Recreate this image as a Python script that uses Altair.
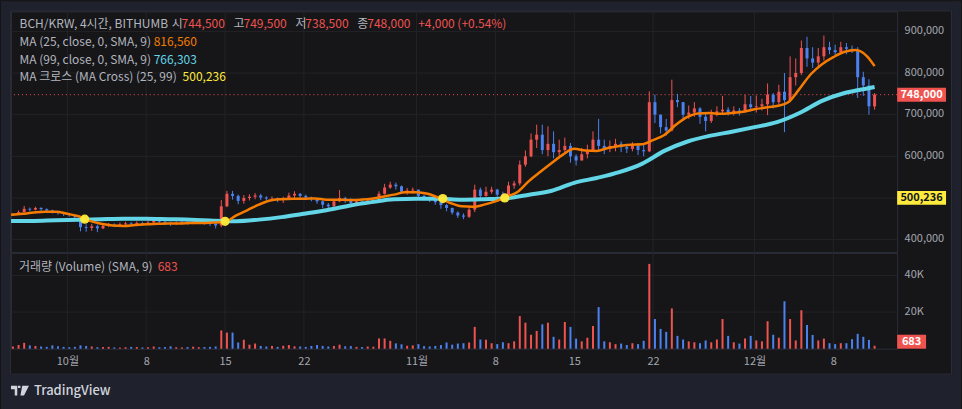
import altair as alt
import pandas as pd

FONT = "Noto Sans CJK KR"
BG = "#161619"
NAVY = "#1f222d"
BORDER = "#2b2e39"
GRID = "#232327"
TXT = "#b2b5be"
AX = "#a3a6af"
RED = "#ef5350"
BLUE = "#4b82f0"
ORANGE = "#f57c00"
CYAN = "#62d5e6"
YELLOW = "#ffeb3b"

# ---------------- data (12-hour candles, thousand KRW) ----------------
candle_start = "2024-09-26 00:00"
first_open = 458
closes = [461, 466, 474, 472, 476, 473, 470, 468, 464, 462, 459, 455, 430, 428, 432, 427, 433, 436,
          434, 437, 439, 437, 440, 438, 441, 445, 443, 440, 438, 440, 442, 440, 441, 443, 440, 438,
          434, 480, 510, 505, 493, 500, 503, 506, 501, 499, 500, 496, 497, 506, 510, 505, 501, 497,
          492, 484, 480, 492, 500, 495, 488, 492, 490, 494, 495, 510, 525, 532, 528, 515, 518, 520,
          505, 500, 497, 490, 483, 476, 465, 458, 455, 472, 520, 505, 515, 520, 508, 505, 530, 535,
          580, 600, 640, 652, 615, 630, 610, 615, 625, 600, 590, 605, 615, 640, 625, 618, 625, 630,
          622, 618, 626, 615, 612, 730, 700, 670, 662, 735, 730, 700, 705, 715, 695, 685, 700, 708,
          712, 705, 710, 706, 725, 718, 720, 725, 748, 730, 755, 735, 790, 800, 860, 835, 825, 840,
          862, 855, 850, 862, 858, 855, 790, 770, 720, 748]
highs = [464, 470, 481, 477, 479, 478, 475, 472, 469, 466, 464, 460, 456, 437, 438, 436, 438, 440,
         439, 441, 443, 442, 444, 443, 446, 449, 448, 446, 443, 444, 446, 445, 445, 448, 445, 443,
         441, 495, 517, 517, 508, 507, 509, 512, 510, 504, 504, 501, 503, 513, 516, 512, 508, 503,
         499, 494, 488, 498, 519, 503, 499, 497, 496, 498, 500, 516, 534, 539, 537, 530, 524, 525,
         520, 508, 503, 498, 495, 486, 477, 468, 463, 478, 532, 525, 527, 527, 522, 515, 539, 541,
         590, 614, 655, 676, 676, 672, 660, 640, 645, 632, 605, 620, 628, 660, 690, 640, 638, 642,
         636, 630, 634, 632, 630, 756, 748, 700, 690, 784, 750, 730, 722, 730, 718, 705, 712, 720,
         745, 718, 720, 716, 748, 745, 746, 738, 775, 752, 772, 800, 840, 835, 878, 887, 862, 860,
         890, 875, 868, 875, 872, 866, 862, 803, 785, 752]
lows = [457, 459, 465, 468, 470, 469, 466, 463, 460, 457, 455, 450, 420, 419, 421, 418, 425, 430,
        430, 432, 434, 433, 435, 434, 436, 438, 438, 435, 433, 435, 437, 436, 437, 438, 436, 433,
        427, 430, 478, 496, 485, 486, 494, 497, 495, 494, 495, 490, 488, 496, 500, 499, 496, 492,
        486, 476, 472, 478, 490, 488, 480, 486, 486, 488, 489, 492, 508, 522, 520, 510, 508, 510,
        496, 494, 490, 484, 474, 468, 460, 452, 449, 452, 466, 498, 503, 510, 503, 496, 503, 522,
        530, 575, 598, 620, 605, 600, 595, 595, 605, 585, 578, 590, 595, 612, 615, 605, 610, 612,
        610, 608, 612, 603, 600, 610, 680, 655, 650, 660, 718, 685, 690, 695, 678, 660, 680, 696,
        700, 698, 698, 698, 705, 708, 705, 710, 699, 715, 725, 658, 730, 770, 795, 815, 812, 815,
        830, 845, 843, 848, 845, 848, 740, 745, 700, 712]
volumes_k = [1.2, 2.0, 3.2, 1.8, 1.5, 1.2, 1.0, 1.8, 1.3, 1.0, 0.8, 1.0, 1.8, 1.5, 1.2, 0.8, 0.9, 1.0,
             0.7, 0.6, 0.8, 1.0, 0.9, 0.7, 0.8, 1.2, 0.8, 0.9, 1.3, 0.8, 0.7, 0.9, 1.1, 0.8, 0.9, 1.0,
             1.2, 10.0, 8.8, 8.8, 3.4, 4.9, 2.2, 2.8, 1.5, 1.2, 1.5, 1.0, 1.6, 2.0, 1.3, 1.2, 1.0, 1.5,
             2.0, 1.5, 1.2, 1.5, 2.2, 1.3, 1.4, 1.0, 0.9, 1.2, 1.1, 5.6, 5.6, 4.3, 2.9, 2.4, 1.6, 1.8,
             2.5, 1.4, 1.2, 1.5, 2.0, 3.4, 2.2, 2.8, 3.0, 3.4, 11.9, 5.0, 4.9, 3.0, 2.5, 3.5, 3.0, 4.0,
             17.8, 14.2, 7.6, 9.7, 13.3, 14.2, 6.5, 5.0, 14.6, 11.9, 5.5, 4.0, 6.0, 12.4, 22.7, 4.0, 3.5, 2.5,
             2.8, 2.0, 3.0, 2.5, 4.3, 46.3, 16.2, 10.8, 9.2, 22.0, 7.0, 5.0, 4.0, 3.5, 3.0, 4.5, 3.5, 5.0,
             16.2, 7.0, 3.5, 2.8, 5.6, 7.0, 4.5, 4.0, 15.0, 7.6, 6.0, 25.9, 16.2, 4.5, 21.0, 13.0, 7.5, 4.5,
             5.5, 3.0, 2.5, 3.0, 3.0, 5.2, 8.1, 6.5, 4.8, 1.6]

# moving averages (thousand KRW)
ma25_start = "2024-09-26"   # daily points
ma25_vals = [460, 462, 465, 467, 467, 462, 456, 445, 438, 434, 433, 435, 437, 438, 439, 439, 440, 440,
             441, 443, 458, 471, 484, 494, 497, 498, 498, 499, 496, 496, 495, 496, 498, 503, 508, 514,
             514, 510, 500, 488, 480, 479, 484, 492, 503, 515, 541, 563, 584, 604, 618, 614, 613, 620,
             625, 628, 629, 639, 651, 675, 694, 703, 704, 702, 704, 707, 713, 717, 721, 730, 762, 797,
             821, 838, 851, 855, 840]
ma99_start = "2024-09-26"   # every second day
ma99_vals = [444.5, 445, 446.6, 447.8, 449, 450, 450, 449, 448, 445.5, 444.2, 448, 454, 462, 470.6,
             481.4, 490, 497, 498, 498, 495.7, 497, 499.3, 507.7, 517.3, 536.4, 548, 562, 582, 613,
             635, 649, 659, 670, 682, 704, 733, 752, 763]
last_time = "2024-12-11 16:00"
ma25_last = 816.56
ma99_last = 766.303
cross_times = ["2024-10-02 13:00", "2024-10-15 00:00", "2024-11-03 08:00", "2024-11-08 20:00"]
cross_vals = [449.0, 444.0, 498.5, 500.236]
last_price = 748000
cross_last = 500236

price_labels = [400000, 600000, 700000, 800000, 900000]
price_grid = [400000, 500000, 600000, 700000, 800000, 900000]
vol_ticks = [20000, 40000]
date_ticks = ["2024-10-01", "2024-10-08", "2024-10-15", "2024-10-22", "2024-11-01",
              "2024-11-08", "2024-11-15", "2024-11-22", "2024-12-01", "2024-12-08"]


def ms(ts):
    ts = pd.Timestamp(ts)
    if ts.tzinfo is None:
        ts = ts.tz_localize("UTC")
    return int(ts.value // 1_000_000)


# ---------------- tables ----------------
t0 = pd.Timestamp(candle_start)
opens = [first_open] + closes[:-1]
n = len(closes)
cdf = pd.DataFrame({
    "t": [ms(t0 + pd.Timedelta(hours=12 * i + 4)) for i in range(n)],
    "open": [o * 1000 for o in opens],
    "close": [c * 1000 for c in closes],
    "hi": [max(h, o, c) * 1000 for h, o, c in zip(highs, opens, closes)],
    "lo": [min(l, o, c) * 1000 for l, o, c in zip(lows, opens, closes)],
    "vol": [v * 1000 for v in volumes_k],
    "dir": ["up" if c >= o else "down" for o, c in zip(opens, closes)],
})
ma25_df = pd.DataFrame({
    "t": [ms(pd.Timestamp(ma25_start) + pd.Timedelta(days=i)) for i in range(len(ma25_vals))] + [ms(last_time)],
    "v": [v * 1000 for v in ma25_vals] + [ma25_last * 1000],
})
ma99_df = pd.DataFrame({
    "t": [ms(pd.Timestamp(ma99_start) + pd.Timedelta(days=2 * i)) for i in range(len(ma99_vals))] + [ms(last_time)],
    "v": [v * 1000 for v in ma99_vals] + [ma99_last * 1000],
})
cross_df = pd.DataFrame({"t": [ms(t) for t in cross_times], "v": [v * 1000 for v in cross_vals]})
hgrid_df = pd.DataFrame({"v": price_grid})
vgrid_df = pd.DataFrame({"t": [ms(d) for d in date_ticks]})
vhgrid_df = pd.DataFrame({"v": vol_ticks})
last_df = pd.DataFrame({"v": [last_price]})
tags_df = pd.DataFrame({"v": [last_price, cross_last], "label": ["748,000", "500,236"],
                        "fill": [RED, YELLOW], "ink": ["#ffffff", "#131722"]})
one = pd.DataFrame({"a": [0]})

# ---------------- scales / axes ----------------
origin = pd.Timestamp("2024-10-01")
x_dom = [ms(origin - pd.Timedelta(days=5.0058)), ms(origin + pd.Timedelta(days=73.669))]
XS = alt.Scale(type="utc", domain=x_dom, padding=0)
YP = alt.Scale(domain=[370536, 947916], nice=False, zero=False, padding=0)
YV = alt.Scale(domain=[0, 52300], nice=False, padding=0)

y_axis_p = alt.Axis(orient="right", values=price_labels, format=",d", title=None, grid=False,
                    domain=False, ticks=False, labelColor=AX, labelFont=FONT, labelFontSize=11,
                    labelPadding=7, labelAlign="left", labelBaseline="middle", labelOffset=-1, zindex=1)
y_axis_v = alt.Axis(orient="right", values=vol_ticks, labelExpr="datum.value / 1000 + 'K'",
                    title=None, grid=False, domain=False, ticks=False, labelColor=AX,
                    labelFont=FONT, labelFontSize=11, labelPadding=7, labelAlign="left",
                    labelBaseline="middle", labelOffset=-1, zindex=1)
x_axis_v = alt.Axis(values=[ms(d) for d in date_ticks],
                    labelExpr="utcdate(datum.value) == 1 ? (utcmonth(datum.value) + 1) + '월' : '' + utcdate(datum.value)",
                    title=None, grid=False, domain=False, ticks=False, labelColor=AX, labelFont=FONT,
                    labelFontSize=11, labelPadding=13, labelBaseline="middle", labelFlush=False,
                    labelOverlap=False, zindex=1)


def XP(f="t:T"):
    return alt.X(f, scale=XS, axis=None)


def XV(f="t:T"):
    return alt.X(f, scale=XS, axis=x_axis_v)


def YPf(f):
    return alt.Y(f, scale=YP, axis=y_axis_p)


def YVf(f):
    return alt.Y(f, scale=YV, axis=y_axis_v)


dir_color = alt.Color("dir:N", scale=alt.Scale(domain=["up", "down"], range=[RED, BLUE]), legend=None)


def box(x, x2, y, y2, color):
    return alt.Chart(one).mark_rect(color=color).encode(
        x=alt.value(x), x2=alt.value(x2), y=alt.value(y), y2=alt.value(y2))


def txt(s, x, y, color, size=12, weight="normal", align="left"):
    return alt.Chart(one).mark_text(text=s, align=align, baseline="middle", color=color,
                                    fontSize=size, font=FONT, fontWeight=weight).encode(
        x=alt.value(x), y=alt.value(y))


# ---------------- price pane ----------------
margins = [
    box(-10, -1, -10, 399, NAVY),
    box(943, 952, -10, 399, NAVY),
    box(-10, 952, -10, -1, NAVY),
    box(-10, 952, 364, 399, NAVY),
]
frame = alt.Chart(one).mark_rect(fill=BG, fillOpacity=0, stroke=BORDER, strokeWidth=1).encode(
    x=alt.value(-0.5), x2=alt.value(942.5), y=alt.value(-0.5), y2=alt.value(363.5))

hgrid = alt.Chart(hgrid_df).mark_rule(color=GRID, strokeWidth=1).encode(y=YPf("v:Q"))
vgrid = alt.Chart(vgrid_df).mark_rule(color=GRID, strokeWidth=1).encode(x=XP())
last_line = alt.Chart(last_df).mark_rule(color=RED, strokeWidth=1, strokeDash=[1, 3]).encode(y=YPf("v:Q"))

wicks = alt.Chart(cdf).mark_rule(strokeWidth=1).encode(x=XP(), y=YPf("lo:Q"), y2="hi:Q", color=dir_color)
bodies = alt.Chart(cdf).mark_bar(size=3).encode(x=XP(), y=YPf("open:Q"), y2="close:Q", color=dir_color)
ma99_line = alt.Chart(ma99_df).mark_line(color=CYAN, strokeWidth=4, interpolate="monotone").encode(
    x=XP(), y=YPf("v:Q"))
ma25_line = alt.Chart(ma25_df).mark_line(color=ORANGE, strokeWidth=2.5, interpolate="monotone").encode(
    x=XP(), y=YPf("v:Q"))
crosses = alt.Chart(cross_df).mark_circle(size=85, color=YELLOW, opacity=0.95).encode(x=XP(), y=YPf("v:Q"))

TAG = "M-1,-0.2857L1,-0.2857L1,0.2857L-1,0.2857Z"
tag_boxes = alt.Chart(tags_df).mark_point(shape=TAG, size=2401, filled=True, opacity=1, strokeWidth=0).encode(
    x=alt.value(912.5), y=YPf("v:Q"), color=alt.Color("fill:N", scale=None))
tag_text = alt.Chart(tags_df).mark_text(font=FONT, fontSize=11, fontWeight="bold", align="center",
                                        baseline="middle").encode(
    x=alt.value(912.5), y=YPf("v:Q"), text="label:N", color=alt.Color("ink:N", scale=None))

L1, L2, L3, L4 = 13, 31, 49, 65.5
legend = [
    txt("BCH/KRW, 4시간, BITHUMB", 8.6, L1, TXT),
    txt("시", 161, L1, TXT), txt("744,500", 171, L1, RED),
    txt("고", 223, L1, TXT), txt("749,500", 233, L1, RED),
    txt("저", 285, L1, TXT), txt("738,500", 295, L1, RED),
    txt("종", 347, L1, TXT), txt("748,000", 357, L1, RED),
    txt("+4,000 (+0.54%)", 408, L1, RED),
    txt("MA (25, close, 0, SMA, 9)", 8.6, L2, TXT), txt("816,560", 143, L2, ORANGE),
    txt("MA (99, close, 0, SMA, 9)", 8.6, L3, TXT), txt("766,303", 143, L3, CYAN),
    txt("MA 크로스 (MA Cross) (25, 99)", 8.6, L4, TXT), txt("500,236", 172, L4, YELLOW),
]

LOGO = ("M-1,-0.55L-0.3,-0.55L-0.3,0.55L-0.58,0.55L-0.58,-0.15L-1,-0.15Z "
        "M-0.22,-0.55L0.05,-0.55L0.05,-0.28L-0.22,-0.28Z "
        "M0.25,-0.55L1,-0.55L0.45,0.55L0.05,0.55Z")
logo = alt.Chart(one).mark_point(shape=LOGO, size=324, filled=True, opacity=1, strokeWidth=0,
                                 color="#d1d4dc").encode(x=alt.value(9), y=alt.value(380))
logo_text = txt("TradingView", 23, 380, "#d1d4dc", size=13, weight=500)

price = alt.layer(*margins, frame, hgrid, vgrid, last_line, wicks, bodies, ma99_line, ma25_line,
                  crosses, tag_boxes, tag_text, *legend, logo, logo_text).properties(width=888, height=241)

# ---------------- volume pane ----------------
vh = alt.Chart(vhgrid_df).mark_rule(color=GRID, strokeWidth=1).encode(y=YVf("v:Q"))
vv = alt.Chart(vgrid_df).mark_rule(color=GRID, strokeWidth=1).encode(x=XV())
vbars = alt.Chart(cdf).mark_bar(size=2).encode(x=XV(), y=YVf("vol:Q"), color=dir_color)
VTAG = "M-1,-0.4828L1,-0.4828L1,0.4828L-1,0.4828Z"
vtag = alt.Chart(one).mark_point(shape=VTAG, size=841, filled=True, opacity=1, strokeWidth=0,
                                 color=RED).encode(x=alt.value(902.5), y=alt.value(89))
vtag_text = txt("683", 902.5, 89, "#ffffff", size=11, weight="bold", align="center")
vlegend = [txt("거래량 (Volume) (SMA, 9)", 8, 14, TXT), txt("683", 147, 14, RED)]

volume = alt.layer(vh, vv, vbars, vtag, vtag_text, *vlegend).properties(width=888, height=96)

chart = alt.vconcat(price, volume, spacing=1, bounds="flush").resolve_scale(
    x="independent", y="independent").properties(padding=0, background=BG).configure_view(
    stroke=BORDER, strokeWidth=1, fill=BG)

chart.save("out.html", embed_options={"renderer": "svg", "actions": False})
